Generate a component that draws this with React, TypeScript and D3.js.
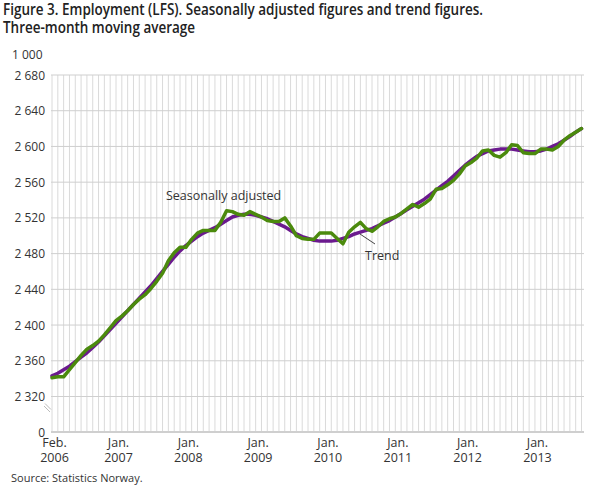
import * as d3 from 'd3'

// monthly categories, Feb 2006 - Sep 2013
const MONTHS: string[] = []
for (let y = 2006; y <= 2013; y++) {
  for (let m = 1; m <= 12; m++) {
    if ((y === 2006 && m < 2) || (y === 2013 && m > 9)) continue
    MONTHS.push(`${y}M${String(m).padStart(2, '0')}`)
  }
}

const SEASONALLY_ADJUSTED = [
  2341, 2342, 2342, 2350, 2358, 2366, 2373, 2377, 2382, 2389, 2397,
  2405, 2410, 2416, 2423, 2429, 2434, 2441, 2449, 2458, 2472, 2481, 2487,
  2487, 2496, 2503, 2506, 2506, 2506, 2515, 2528, 2527, 2524, 2523, 2527,
  2524, 2521, 2517, 2516, 2516, 2520, 2511, 2500, 2497, 2496, 2496, 2503,
  2503, 2503, 2497, 2491, 2504, 2510, 2515, 2508, 2505, 2510, 2516, 2519,
  2521, 2525, 2530, 2535, 2532, 2536, 2541, 2552, 2553, 2557, 2562, 2569,
  2578, 2582, 2587, 2595, 2596, 2590, 2588, 2593, 2602, 2601, 2593, 2592,
  2592, 2597, 2597, 2596, 2600, 2607, 2612, 2616, 2620,
]

const TREND = [
  2343, 2346, 2350, 2354, 2359, 2364, 2369, 2375, 2381, 2388, 2395,
  2402, 2409, 2416, 2423, 2430, 2437, 2444, 2452, 2460, 2468, 2476, 2483,
  2489, 2494, 2499, 2503, 2506, 2509, 2513, 2517, 2521, 2523, 2524, 2524,
  2523, 2521, 2519, 2516, 2513, 2510, 2506, 2502, 2499, 2497, 2495, 2494,
  2494, 2494, 2495, 2497, 2499, 2502, 2504, 2506, 2508, 2511, 2514, 2517,
  2521, 2525, 2529, 2533, 2537, 2541, 2546, 2551, 2556, 2561, 2567, 2573,
  2579, 2584, 2589, 2592, 2595, 2596, 2597, 2597, 2597, 2596, 2595, 2594,
  2594, 2595, 2597, 2600, 2603, 2607, 2611, 2616, 2620,
]

const Y_TICKS = [0, 2320, 2360, 2400, 2440, 2480, 2520, 2560, 2600, 2640, 2680]

const X_TICKS = [
  { month: '2006M02', label: ['Feb.', '2006'] },
  { month: '2007M01', label: ['Jan.', '2007'] },
  { month: '2008M01', label: ['Jan.', '2008'] },
  { month: '2009M01', label: ['Jan.', '2009'] },
  { month: '2010M01', label: ['Jan.', '2010'] },
  { month: '2011M01', label: ['Jan.', '2011'] },
  { month: '2012M01', label: ['Jan.', '2012'] },
  { month: '2013M01', label: ['Jan.', '2013'] },
]

const FONT = '"Open Sans", "DejaVu Sans", sans-serif'
const GREEN = '#4b8a0d'
const PURPLE = '#6b1a8e'

export default function App() {
  const width = 610
  const height = 488
  const left = 52
  const right = 581.5
  const top = 75
  const bottom = 432

  const x = d3.scalePoint<string>().domain(MONTHS).range([left, right])
  // broken axis: 0 sits one step below 2320
  const y = d3.scaleLinear().domain([0, 2320, 2680]).range([bottom, 396.5, top])

  const line = d3
    .line<number>()
    .x((_, i) => x(MONTHS[i])!)
    .y(d => y(d))

  return (
    <svg width={width} height={height} style={{ position: 'absolute', left: 0, top: 0 }} fontFamily={FONT}>
      <rect width={width} height={height} fill="#fff" />
      <text x={3} y={15} fontSize={16} fontWeight={600} fill="#222" textLength={480} lengthAdjust="spacingAndGlyphs">
        Figure 3. Employment (LFS). Seasonally adjusted figures and trend figures.
      </text>
      <text x={3} y={33} fontSize={16} fontWeight={600} fill="#222" textLength={192} lengthAdjust="spacingAndGlyphs">
        Three-month moving average
      </text>
      <text x={12} y={59} fontSize={12} fill="#333">1 000</text>

      {MONTHS.map(m => (
        <line key={m} x1={x(m)} x2={x(m)} y1={top} y2={bottom} stroke="#dadada" strokeWidth={1} />
      ))}
      {Y_TICKS.map(t => (
        <g key={t}>
          {t > 0 && <line x1={left - 1} x2={584} y1={y(t)} y2={y(t)} stroke="#cfcfcf" strokeWidth={1} />}
          <text x={45} y={y(t) + 4.5} fontSize={12} fill="#333" textAnchor="end">
            {d3.format(',')(t).replace(/,/g, ' ')}
          </text>
        </g>
      ))}
      <line x1={left - 1} x2={584} y1={bottom} y2={bottom} stroke="#cfcfcf" strokeWidth={2} />
      <line x1={44} x2={50} y1={406} y2={412} stroke="#bbb" strokeWidth={1} />
      <line x1={45} x2={51} y1={403.5} y2={409.5} stroke="#bbb" strokeWidth={1} />

      {X_TICKS.map(t => (
        <text key={t.month} x={x(t.month)! + 2.5} fontSize={12.5} fill="#333" textAnchor="middle">
          <tspan x={x(t.month)! + 2.5} y={447}>{t.label[0]}</tspan>
          <tspan x={x(t.month)! + 2.5} y={462}>{t.label[1]}</tspan>
        </text>
      ))}

      <path d={line(TREND)!} fill="none" stroke={PURPLE} strokeWidth={3.5} strokeLinejoin="round" strokeLinecap="round" />
      <path d={line(SEASONALLY_ADJUSTED)!} fill="none" stroke={GREEN} strokeWidth={3.5} strokeLinejoin="round" strokeLinecap="round" />

      <text x={166} y={200} fontSize={12.5} fill="#333">Seasonally adjusted</text>
      <line x1={360} x2={375} y1={234} y2={244} stroke="#444" strokeWidth={1} />
      <text x={365} y={260} fontSize={12.5} fill="#333">Trend</text>

      <text x={11} y={482} fontSize={11} fill="#333">Source: Statistics Norway.</text>
    </svg>
  )
}
